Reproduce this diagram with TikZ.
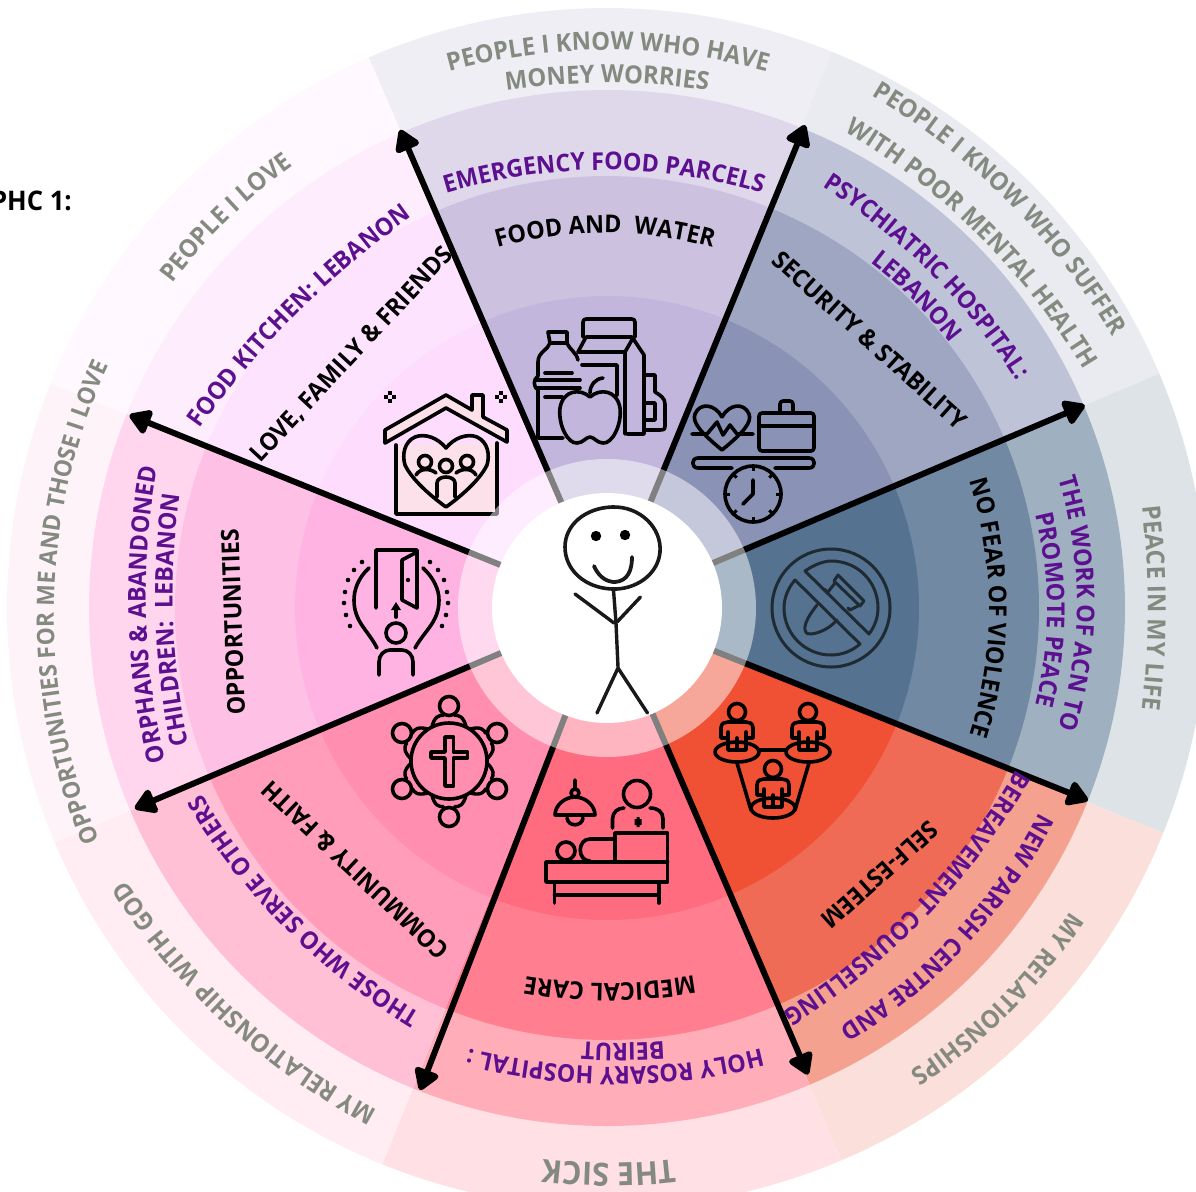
\documentclass[tikz,border=0pt]{standalone}
\usepackage{fontspec}
\setmainfont{Open Sans}[BoldFeatures={FakeStretch=0.95}]
\usetikzlibrary{calc,arrows.meta,decorations.text}
\definecolor{gtxt}{HTML}{858A80}
\definecolor{ptxt}{HTML}{5C0F8F}
\definecolor{knifec}{HTML}{1F2A33}
\definecolor{houseF}{HTML}{FCE1EB}
\newcommand{\fgrey}{\fontsize{25}{25}\selectfont\bfseries\color{gtxt}}
\newcommand{\fgreyb}{\fontsize{24}{25}\selectfont\bfseries\color{gtxt}}
\newcommand{\fsick}{\fontsize{32}{32}\selectfont\bfseries\color{gtxt}}
\newcommand{\fpur}{\fontsize{24.5}{25}\selectfont\bfseries\color{ptxt}}
\newcommand{\fblk}{\fontsize{24.5}{25}\selectfont\bfseries\color{black}}
% mid x, mid y (pixels), normal angle, radius of curvature, format, text
\newcommand{\arct}[6]{%
  \pgfmathsetmacro\sspan{min(85,3000/#4*10)}%
  \path[decorate,decoration={text along path,text={|#5|#6},text align=center}]
    ($(#1,-#2)+({#3+180}:#4)+({#3+\sspan}:#4)$) arc[start angle={#3+\sspan},end angle={#3-\sspan},radius=#4];%
}
\newcommand{\sect}[4]{\fill[#4] ($(ctr)+(#1:#3)$) arc[start angle=#1,end angle=#2,radius=#3] -- (ctr) -- cycle;}
\tikzset{
  ic/.style={line width=3.6pt,line cap=round,line join=round,draw=black},
  kn/.style={line width=3pt,line cap=round,line join=round,draw=knifec},
  spoke/.style={line width=6pt,draw=black,-{Triangle[width=28pt,length=24pt,round]}},
  lbl/.style={font=\fblk,inner sep=0pt},
}
\begin{document}
\begin{tikzpicture}[x=1pt,y=1pt]
\path[clip] (0,0) rectangle (1196,-1191);
\coordinate (ctr) at (607,-608);
% sectors
\foreach \aa/\ab/\ca/\cb/\cc/\cd in {
 68/113.4/C2B6DC/CCC2E0/DFD8EB/EFEEF5,
 23/68/8A92B6/9EA6C2/BFC3D8/EAEBF0,
 -22/23/557391/7189A3/9FB0C0/DDE3E7,
 -67/-22/F05033/F06B55/F5A190/FADFDA,
 -112/-67/FF6B7F/FF7F90/FFADB8/FFE0E4,
 -157/-112/FF8EB0/FF9DBA/FFBFD4/FFEDF3,
 -202/-157/FFB3E2/FFC0E6/FFD6EE/FFF3FA,
 113.4/158/FDDCFE/FEE3FE/FEEEFD/FFF8FE}{
  \definecolor{ca}{HTML}{\ca}\definecolor{cb}{HTML}{\cb}\definecolor{cc}{HTML}{\cc}\definecolor{cd}{HTML}{\cd}
  \sect{\aa}{\ab}{600}{cd}
  \sect{\aa}{\ab}{518}{cc}
  \sect{\aa}{\ab}{432}{cb}
  \sect{\aa}{\ab}{312}{ca}
}
% spokes
\coordinate (t1) at ($(ctr)+(113.4:521)$);
\coordinate (t2) at ($(ctr)+(67.7:522)$);
\coordinate (t3) at ($(ctr)+(23:519)$);
\coordinate (t4) at ($(ctr)+(-21.8:518)$);
\coordinate (t5) at ($(ctr)+(-66.7:508)$);
\coordinate (t6) at ($(ctr)+(-111.2:517)$);
\coordinate (t7) at ($(ctr)+(-157:513)$);
\coordinate (t8) at ($(ctr)+(158:515)$);
\foreach \t in {t1,t2,t3,t4,t5,t6,t7,t8}{\draw[spoke] (ctr) -- (\t);}
% icons
\begin{scope}[x=1pt,y=-1pt]
% house
\draw[ic,fill=houseF] (396,445) -- (396,514) -- (497,514) -- (497,443);
\draw[ic,fill=houseF] (446,395) -- (472,410) -- (472,395) -- (483,395) -- (483,417) -- (507,430) -- (507,442) -- (446,408) -- (385,443) -- (385,430) -- cycle;
\draw[ic] (446,448) .. controls (438,438) and (425,433) .. (415,437) .. controls (404,442) and (402,455) .. (405,465) .. controls (412,480) and (432,497) .. (446,507) .. controls (460,497) and (480,480) .. (487,465) .. controls (490,455) and (488,442) .. (477,437) .. controls (467,433) and (454,438) .. (446,448) -- cycle;
\draw[ic] (425,462) circle (6.5) (446,466) circle (6.5) (467,462) circle (6.5);
\draw[ic] (437,497) -- (437,483) .. controls (437,475) and (455,475) .. (455,483) -- (455,497);
\draw[ic] (416,475) .. controls (420,468) and (430,468) .. (436,473);
\draw[ic] (476,475) .. controls (472,468) and (462,468) .. (456,473);
\foreach \x in {390,501}{\foreach \dx/\dy in {-4/0,4/0,0/-4,0/4}{\fill ($(\x,397)+(\dx,\dy)+(-2,-2)$) rectangle +(4,4);}}
% food
\draw[ic] (550,343) -- (548,332) -- (567,332) -- (567,343) (550,343) -- (567,343);
\draw[ic] (550,343) .. controls (548,350) and (538,352) .. (538,362) -- (538,376) .. controls (533,380) and (533,386) .. (538,390) -- (538,438) -- (563,438);
\draw[ic] (567,343) .. controls (570,350) and (576,352) .. (578,360);
\draw[ic] (536,380) -- (580,380) (536,388) -- (580,388) (545,373) -- (572,373) (545,397) -- (562,397);
\draw[ic,rounded corners=3pt] (583,337) -- (583,319) -- (635,319) -- (635,337);
\draw[ic] (578,352) -- (586,337) -- (632,337) -- (644,355) -- (644,434) -- (627,434);
\draw[ic] (578,352) -- (625,352) -- (633,338) (625,352) -- (625,434);
\draw[ic] (582,365) -- (617,365) -- (617,395);
\draw[ic] (590,397) .. controls (580,388) and (563,390) .. (560,408) .. controls (558,425) and (568,444) .. (577,443) .. controls (583,443) and (586,437) .. (590,437) .. controls (594,437) and (597,443) .. (603,443) .. controls (612,444) and (622,425) .. (620,408) .. controls (617,390) and (600,388) .. (590,397);
\draw[ic] (590,393) .. controls (590,385) and (595,379) .. (603,378);
\draw[ic] (645,375) -- (655,375) -- (655,392) .. controls (660,395) and (665,398) .. (665,404) -- (665,426) .. controls (665,430) and (663,430) .. (660,430) -- (645,430);
\draw[ic] (645,403) -- (655,403) -- (655,420) -- (645,420);
% scale
\draw[ic] (722,417) .. controls (715,404) and (700,402) .. (695,414) .. controls (692,422) and (700,432) .. (722,450) .. controls (744,432) and (752,422) .. (749,414) .. controls (744,402) and (729,404) .. (722,417);
\draw[ic] (692,434) -- (707,434) -- (717,422) -- (723,435) -- (730,425) -- (737,434) -- (753,434);
\draw[ic,rounded corners=3pt] (759,413) rectangle (814,451);
\draw[ic] (759,426) -- (814,426);
\draw[ic,rounded corners=3pt] (780,413) -- (780,401) -- (793,401) -- (793,413);
\draw[ic] (732,468) -- (698,468) .. controls (691,468) and (691,458) .. (698,458) -- (809,458) .. controls (816,458) and (816,468) .. (809,468) -- (775,468);
\draw[ic] (753,494) circle (28);
\foreach \k in {0,45,...,315}{\draw[line width=3pt,draw=black] ($(753,494)+(\k:28)$) -- ($(753,494)+(\k:23)$);}
\draw[ic] (753,480) -- (753,494) -- (743,504);
% no-weapon
\draw[kn] (831,608) circle (59);
\draw[kn] (805,571) .. controls (815,564) and (825,561) .. (831,561) .. controls (858,561) and (878,582) .. (878,608) .. controls (878,617) and (875,626) .. (869,634) -- cycle;
\draw[kn] (795,580) .. controls (788,588) and (784,598) .. (784,608) .. controls (784,634) and (805,655) .. (831,655) .. controls (842,655) and (852,651) .. (860,644) -- cycle;
\draw[kn] (838,575) -- (864,601) -- (860,606) -- (834,581) -- cycle;
\draw[kn] (835,583) -- (828,592) -- (824,589);
\draw[kn] (858,606) -- (850,610) -- (848,608);
\draw[kn] (817,605) .. controls (810,614) and (804,623) .. (805,630) .. controls (806,634) and (808,634) .. (811,634) .. controls (820,633) and (830,628) .. (837,620);
% door
\draw[ic] (376,608) -- (376,550) -- (417,550) -- (417,608) -- (402,600) -- (402,560) -- (417,552);
\fill (408,580) circle (2.2);
\draw[ic] (396,617) -- (396,608);
\fill (396,602) -- (401,610) -- (391,610) -- cycle;
\draw[ic] (396,633) circle (10);
\draw[ic] (379,675) -- (379,662) .. controls (379,655) and (384,650) .. (390,650) -- (402,650) .. controls (408,650) and (413,655) .. (413,662) -- (413,675);
\draw[ic] (369,568) .. controls (358,578) and (354,590) .. (354,600) .. controls (354,622) and (368,630) .. (377,648);
\draw[ic] (423,568) .. controls (434,578) and (439,590) .. (439,600) .. controls (439,622) and (425,630) .. (415,648);
\foreach \x/\y in {362/562,354/570,348/580,345/592,344/603,346/615,350/626,430/562,438/570,444/580,447/592,448/603,446/615,442/626}{\fill (\x,\y) circle (2.3);}
% cross circle
\draw[ic] (449,761) circle (38);
\foreach \x/\y/\k in {449/706/90,402/733/150,497/733/30,402/789/210,497/789/330,449/817/270}{
  \draw[ic] (\x,\y) circle (9.5);
}
\foreach \k in {-90,-30,30,90,150,210}{
  \draw[line width=3.4pt,line cap=round] ($(449,761)+({\k-27}:38)$) .. controls ($(449,761)+({\k-18}:47)$) and ($(449,761)+({\k-12}:47)$) .. ($(449,761)+({\k-7}:46)$);
  \draw[line width=3.4pt,line cap=round] ($(449,761)+({\k+27}:38)$) .. controls ($(449,761)+({\k+18}:47)$) and ($(449,761)+({\k+12}:47)$) .. ($(449,761)+({\k+7}:46)$);
}
\draw[ic] (445,737) -- (453.5,737) -- (453.5,752) -- (467.5,752) -- (467.5,758) -- (453.5,758) -- (453.5,786) -- (445,786) -- (445,758) -- (431,758) -- (431,752) -- (445,752) -- cycle;
% medical
\draw[ic] (575,780) -- (575,789) (575,793) circle (4);
\draw[ic] (555,815) .. controls (555,805) and (565,797) .. (575,797) .. controls (585,797) and (595,805) .. (595,815) -- cycle;
\draw[ic] (567,818) .. controls (568,827) and (582,827) .. (583,818);
\draw[ic] (637,794) circle (13.5);
\draw[ic] (612.5,828) -- (612.5,819) .. controls (612.5,812) and (618,808) .. (624,808);
\draw[ic] (663,828) -- (663,819) .. controls (663,812) and (658,808) .. (650,808);
\fill (634.5,819) rectangle +(7,6) (636.5,817) rectangle +(3,10);
\draw[ic] (615,862) -- (615,833) -- (667.5,833) -- (667.5,882) -- (546,882) -- (546,862) -- (667.5,862);
\draw[ic] (614,839) -- (590,839) .. controls (577,839) and (577,861) .. (590,861);
\draw[ic] (566,851) circle (9);
\draw[ic] (554.5,882) -- (554.5,903) (659,882) -- (659,903) (554.5,895) -- (659,895);
% group
\foreach \px/\py in {737/712,808/712,773/769}{
  \begin{scope}[shift={(\px,\py)}]
  \draw[ic] (0,0) circle (8.5);
  \draw[ic] (-16,26) -- (-16,16) .. controls (-16,11) and (-12,10) .. (-9,10) -- (9,10) .. controls (12,10) and (16,11) .. (16,16) -- (16,26) -- (9,26) (-16,26) -- (-9,26);
  \draw[ic] (-9,20) -- (-9,38) -- (9,38) -- (9,20) (0,26) -- (0,38);
  \end{scope}
}
\draw[ic] (737,752) ellipse (22 and 10) (808,752) ellipse (22 and 10) (773,808) ellipse (22 and 10);
\draw[ic] (759,750) -- (786,750) (737,763) -- (751,810) (809,763) -- (795,810);
\end{scope}
% overlay ring and hub
\fill[white,opacity=.5] (ctr) circle (149);
\node[circle,fill=white,minimum size=230pt,inner sep=0pt] (hub) at (ctr) {};
% stick figure
\begin{scope}[x=1pt,y=-1pt,line cap=round,line join=round,draw=black!90]
\draw[line width=3.6pt] (612,507) .. controls (640,506) and (662,528) .. (660,552) .. controls (658,575) and (635,590) .. (612,589) .. controls (585,588) and (565,570) .. (565,547) .. controls (565,525) and (585,508) .. (612,507) -- cycle;
\fill (596,536) circle (5.2) (625,535) circle (5.2);
\draw[line width=3.8pt] (594,566) .. controls (600,580) and (610,582) .. (615,582) .. controls (628,581) and (632,570) .. (632,557);
\draw[line width=3.4pt] (613.5,590) -- (616,623) -- (618,667);
\draw[line width=3.4pt] (575,594) -- (614,623) (640.5,597) -- (617,622);
\draw[line width=3.4pt] (618,668) -- (597,713) (618,668) -- (647.5,713);
\end{scope}
% title
\node[font=\fontsize{27}{27}\selectfont\bfseries,anchor=east,inner sep=0pt] (phc) at (72,-201) {PHC 1:};
% straight labels
\node[lbl,rotate=-42] (lab1) at (870,-340) {SECURITY {\&} STABILITY};
\node[lbl,rotate=47] (lab2) at (352,-355) {LOVE, FAMILY {\&} FRIENDS};
\node[lbl,rotate=92] (lab3) at (233,-622) {OPPORTUNITIES};
\node[lbl,rotate=136.6] (lab4) at (355,-870) {COMMUNITY {\&} FAITH};
\node[lbl,rotate=-138] (lab5) at (880,-875) {SELF-ESTEEM};
% curved labels
\arct{608}{50}{90}{600}{\fgrey}{PEOPLE I KNOW WHO HAVE}
\arct{607}{83}{90}{700}{\fgrey}{MONEY WORRIES}
\arct{604}{170}{90}{550}{\fpur}{EMERGENCY FOOD PARCELS}
\arct{605}{233}{90}{400}{\fblk}{FOOD AND{\ }{\ }WATER}
\arct{1007}{201}{45}{700}{\fgrey}{PEOPLE I KNOW WHO SUFFER}
\arct{979}{236}{45}{700}{\fgrey}{WITH POOR MENTAL HEALTH}
\arct{930}{273}{45}{650}{\fpur}{PSYCHIATRIC HOSPITAL:}
\arct{913}{300}{45}{430}{\fpur}{LEBANON}
\arct{1148}{608}{0}{900}{\fgrey}{PEACE IN MY LIFE}
\arct{1077}{603}{0}{430}{\fpur}{THE WORK OF ACN TO}
\arct{1047}{610}{0}{400}{\fpur}{PROMOTE PEACE}
\arct{989}{608}{0}{430}{\fblk}{NO FEAR OF VIOLENCE}
\arct{998}{1000}{-45}{555}{\fgrey}{MY RELATIONSHIPS}
\arct{954}{934}{-43}{550}{\fpur}{NEW PARISH CENTRE AND}
\arct{914}{905}{-44}{700}{\fpur}{BEREAVEMENT COUNSELLING}
\arct{609}{1163}{-90}{560}{\fsick}{THE SICK}
\arct{615}{1067}{-90}{600}{\fpur}{HOLY ROSARY HOSPITAL :}
\arct{623}{1043}{-90}{600}{\fpur}{BEIRUT}
\arct{610}{983}{-90}{500}{\fblk}{MEDICAL CARE}
\arct{237}{1011}{-132.5}{700}{\fgrey}{MY RELATIONSHIP WITH GOD}
\arct{298}{917}{-135}{650}{\fpur}{THOSE WHO SERVE OTHERS}
\arct{54}{602}{178.8}{590}{\fgreyb}{OPPORTUNITIES FOR ME AND THOSE I LOVE}
\arct{146}{615}{181.6}{680}{\fpur}{ORPHANS {\&} ABANDONED}
\arct{173}{620}{182}{680}{\fpur}{CHILDREN:{\ }{\ }LEBANON}
\arct{228}{220}{134.4}{540}{\fgrey}{PEOPLE I LOVE}
\arct{297}{314}{135}{900}{\fpur}{FOOD KITCHEN: LEBANON}
\end{tikzpicture}
\end{document}
